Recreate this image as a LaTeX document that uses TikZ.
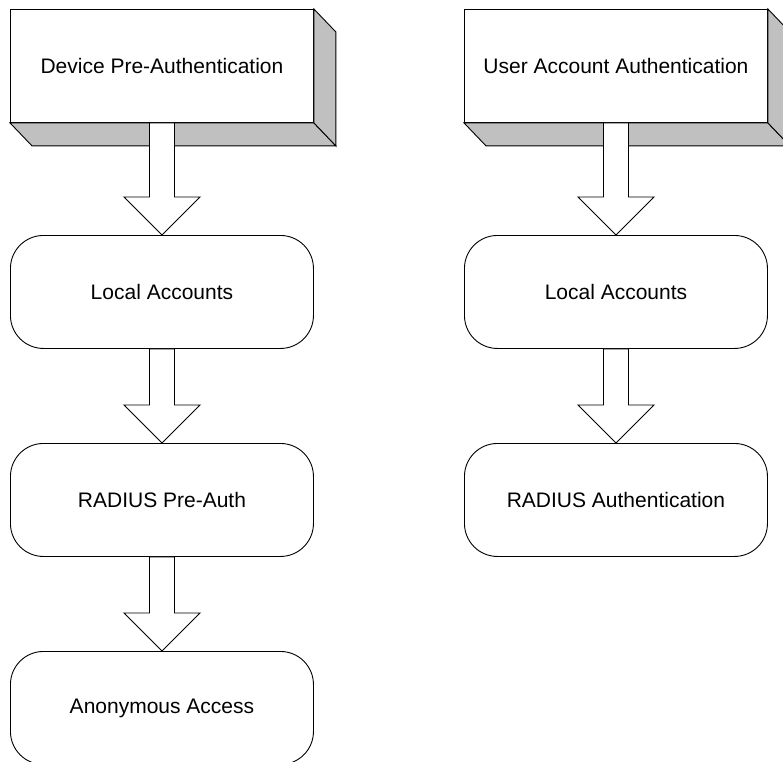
\documentclass[tikz,border=0pt]{standalone}
\usepackage{fontspec}
\setmainfont{Liberation Sans}
\usetikzlibrary{calc}
\definecolor{shade}{HTML}{C0C0C0}
\begin{document}
\begin{tikzpicture}[x=1pt,y=-1pt,line width=0.9pt,
 front/.style={draw, fill=white, minimum width=303pt, minimum height=113pt, inner sep=0pt,
   font=\fontsize{21}{25}\selectfont, anchor=north west},
 rbox/.style={front, rounded corners=33pt},
 side/.style={draw, fill=shade, line join=miter},
 barrow/.style={draw, fill=white, line join=miter}]
\useasboundingbox (0,0) rectangle (783,761);
% top 3D boxes
\node[front] (d1) at (10,9) {Device Pre-Authentication};
\node[front] (u1) at (464,9) {User Account Authentication};
\foreach \n in {d1,u1}{
  \path[side] (\n.south west) -- ($(\n.south west)+(22,23)$) -- ($(\n.south east)+(22,23)$) -- (\n.south east) -- cycle;
  \path[side] (\n.north east) -- ($(\n.north east)+(22,23)$) -- ($(\n.south east)+(22,23)$) -- (\n.south east) -- cycle;
}
% rounded boxes
\node[rbox] (d2) at (10,235) {Local Accounts};
\node[rbox] (d3) at (10,443) {RADIUS Pre-Auth};
\node[rbox] (d4) at (10,651) {Anonymous Access};
\node[rbox] (u2) at (464,235) {Local Accounts};
\node[rbox] (u3) at (464,443) {RADIUS Authentication};
% block arrows
\foreach \a/\b in {d1/d2,d2/d3,d3/d4,u1/u2,u2/u3}{
  \path[barrow] ($(\a.south)+(-12.5,0)$) -- ($(\b.north)+(-12.5,-38)$) -- ($(\b.north)+(-38,-38)$)
    -- (\b.north) -- ($(\b.north)+(38,-38)$) -- ($(\b.north)+(12.5,-38)$) -- ($(\a.south)+(12.5,0)$) -- cycle;
}
\end{tikzpicture}
\end{document}
